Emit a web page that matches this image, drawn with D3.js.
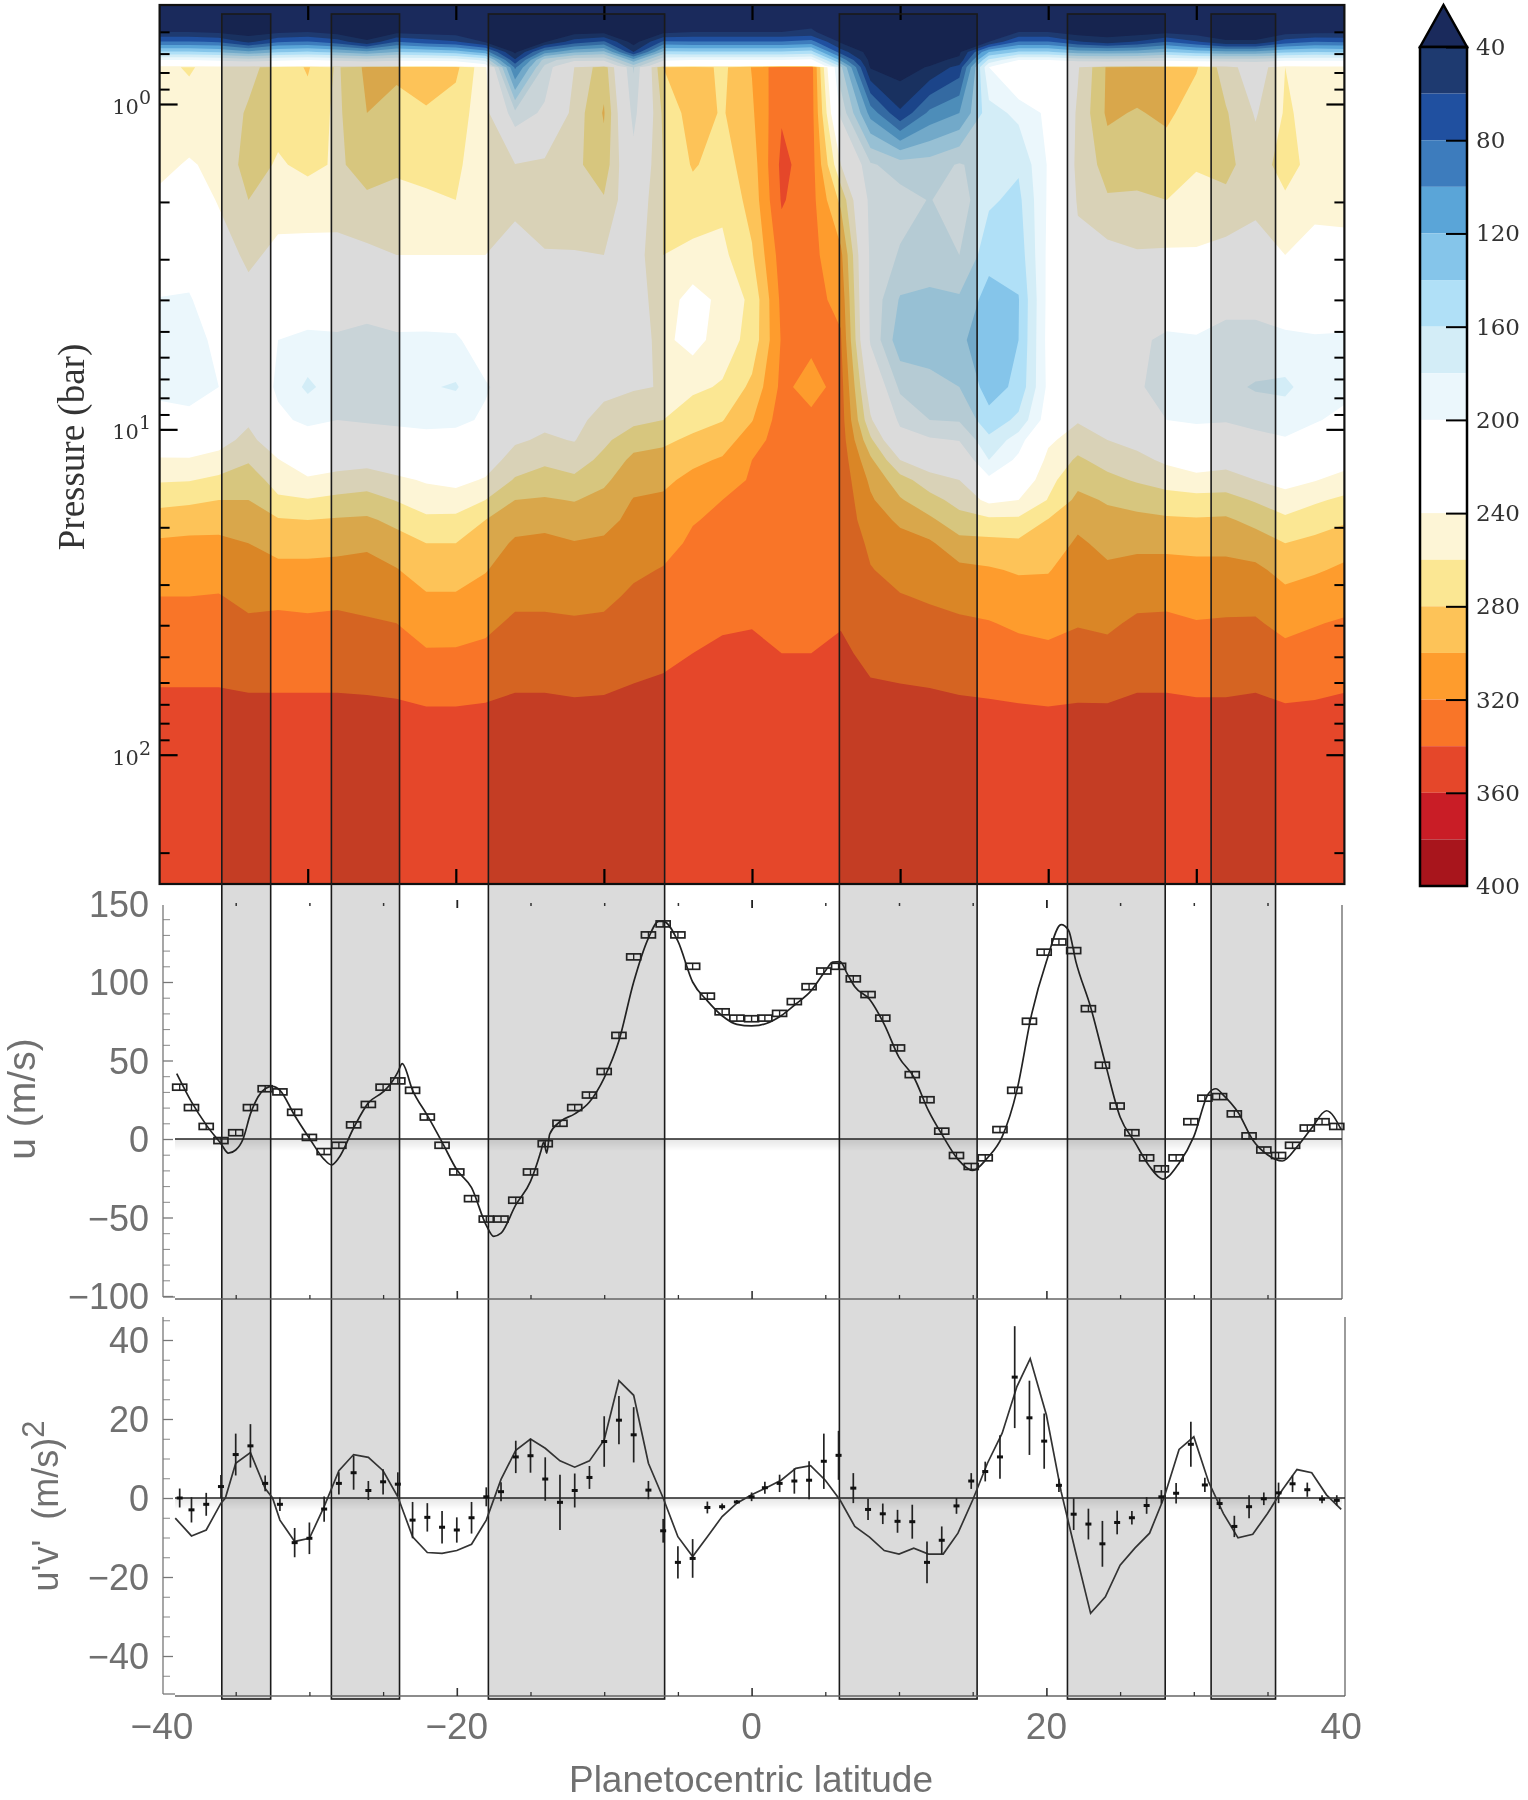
<!DOCTYPE html>
<html><head><meta charset="utf-8">
<script src="https://cdn.jsdelivr.net/npm/d3@7"></script>
<style>html,body{margin:0;background:#fff}svg{display:block;filter:blur(0.7px)}</style>
</head><body><svg id="c" width="1528" height="1800"></svg>
<script>
// ---------- temperature grid (K): one array per pressure level, latitudes -40..40 step 2
const gridLat=[-40,-38,-36,-34,-32,-30,-28,-26,-24,-22,-20,-18,-16,-14,-12,-10,-8,-6,-4,-2,0,2,4,6,8,10,12,14,16,18,20,22,24,26,28,30,32,34,36,38,40];
const logP=[-0.304,-0.221,-0.191,-0.160,-0.135,-0.117,-0.113,0.028,0.187,0.295,0.464,0.602,0.725,0.870,0.971,1.033,1.094,1.156,1.217,1.279,1.350,1.432,1.514,1.596,1.688,1.781,1.852,2.397];
const T00=[20,20,20,20,20,20,20,20,20,20,20,20,20,20,20,20,20,20,20,20,20,20,20,20,20,20,20,20,20,20,20,20,20,20,20,20,20,20,20,20,20];
const T01=[40,40,36,30,36,40,32,28,34,32,30,26,20,26,32,34,24,34,40,40,40,40,43,26,22,20,22,24,28,40,40,30,29,30,34,30,28,28,32,34,36];
const T02=[82,82,78,55,78,82,70,43,80,70,62,38,25,38,70,83,30,83,82,82,82,82,88,36,26,22,26,30,40,82,82,62,50,62,80,62,43,43,70,80,78];
const T03=[142,142,138,125,138,142,135,125,140,135,130,110,35,110,135,145,60,145,142,142,142,142,148,70,30,24,30,36,120,142,142,130,128,130,140,130,125,125,135,140,138];
const T04=[200,200,196,190,196,200,195,190,196,195,192,175,63,170,195,196,130,196,200,200,200,200,205,115,33,26,35,44,165,200,200,192,190,192,196,192,190,190,195,196,196];
const T05=[235,235,232,230,232,235,232,230,232,232,230,210,90,182,230,232,165,232,235,235,235,235,240,155,36,28,40,63,195,230,225,232,232,235,235,235,232,220,232,232,232];
const T06=[255,262,252,255,268,282,257,285,285,290,285,245,96,185,240,272,178,280,292,275,301,335,330,165,38,30,42,68,200,235,225,238,283,295,290,282,250,225,260,252,250];
const T07=[252,252,250,262,266,272,256,280,272,278,270,248,185,205,248,282,192,264,290,278,297,338,330,195,112,63,105,120,172,185,205,243,284,278,285,268,262,238,262,255,249];
const T08=[245,238,245,268,258,264,258,265,263,264,263,250,241,245,255,272,210,260,282,272,290,345,330,240,183,170,170,182,170,163,202,245,268,268,267,262,265,250,268,252,246];
const T09=[236,225,242,260,250,252,250,258,255,258,260,245,245,248,250,258,220,260,272,265,287,342,328,275,192,188,179,190,163,155,203,242,258,257,260,252,256,247,257,248,244];
const T10=[215,210,228,245,234,232,233,235,240,240,240,240,232,239,239,240,228,260,255,255,278,330,326,305,195,178,165,180,148,148,205,235,233,238,237,238,232,228,240,230,236];
const T11=[199,198,215,232,218,215,212,212,220,215,215,225,222,228,230,233,230,250,232,245,265,325,326,315,195,158,158,157,131,139,206,222,222,220,218,220,210,205,215,212,213];
const T12=[194,192,205,222,200,195,197,192,195,196,197,212,215,220,225,233,232,245,232,250,267,322,325,322,197,147,152,145,125,140,207,215,215,205,195,197,190,195,195,198,197];
const T13=[195,193,200,220,196,176,190,187,185,182,178,198,210,222,228,236,238,241,256,262,285,325,312,328,225,176,165,160,131,145,205,212,213,205,185,186,185,178,176,190,193];
const T14=[207,205,212,236,205,195,200,197,195,193,195,203,225,235,236,245,255,260,272,279,299,330,325,330,243,195,180,178,147,165,212,238,225,220,200,197,198,192,190,198,206];
const T15=[225,224,231,247,223,211,215,215,211,208,208,216,237,243,239,256,271,276,284,291,310,331,326,331,264,210,203,199,165,190,236,250,240,233,218,212,215,208,202,210,219];
const T16=[242,242,248,258,241,226,231,233,227,223,220,229,249,256,251,265,285,287,296,302,320,332,328,332,284,240,226,219,180,205,246,263,253,246,236,226,232,224,218,222,232];
const T17=[258,259,264,270,252,243,247,250,244,238,234,242,262,269,264,276,293,296,305,312,322,333,329,333,296,268,249,240,205,222,254,274,265,258,252,248,249,240,233,239,247];
const T18=[274,276,280,280,263,261,265,268,259,250,249,260,280,282,279,286,301,303,312,320,325,333,330,334,303,282,267,253,235,240,261,285,278,273,268,266,267,258,248,257,264];
const T19=[289,292,293,289,282,280,282,283,275,264,265,280,292,295,290,294,305,308,319,323,327,334,331,335,308,297,284,267,264,264,281,295,286,285,283,282,283,274,264,271,277];
const T20=[303,304,304,300,293,293,294,297,288,280,280,289,303,304,301,303,311,314,323,326,330,335,333,336,316,306,303,287,286,284,289,303,295,296,296,295,295,290,280,285,293];
const T21=[312,312,312,307,305,305,306,306,301,291,291,299,309,310,308,309,317,321,327,330,333,336,335,337,321,314,311,305,302,298,299,308,303,306,306,305,305,304,294,298,303];
const T22=[320,320,321,315,316,315,316,314,310,302,302,307,316,316,315,316,323,326,331,334,336,337,336,338,326,321,318,314,312,308,306,313,310,315,315,313,313,314,305,309,313];
const T23=[326,326,326,323,324,323,324,322,320,311,312,316,323,323,322,323,328,331,335,338,339,338,338,339,330,327,325,323,321,317,315,319,317,323,324,321,322,322,315,319,322];
const T24=[333,333,333,330,331,330,331,330,328,322,322,324,330,330,329,330,334,336,340,343,344,340,340,343,336,333,332,330,328,326,324,326,325,330,330,329,329,330,325,327,330];
const T25=[339,339,339,338,338,338,338,337,336,332,332,335,338,338,337,337,340,342,346,349,350,345,346,348,341,340,339,337,336,334,333,335,334,338,338,337,337,338,334,335,338];
const T26=[345,345,345,343,343,343,343,343,342,340,340,341,343,343,342,343,345,347,351,353,354,349,350,352,346,345,344,343,342,341,340,341,341,343,343,342,342,343,341,342,343];
const T27=[357,357,357,357,357,357,357,357,357,357,357,357,357,357,357,357,357,357,357,357,357,357,357,357,357,357,357,357,357,357,357,357,357,357,357,357,357,357,357,357,357];
const gridRows=[T00,T01,T02,T03,T04,T05,T06,T07,T08,T09,T10,T11,T12,T13,T14,T15,T16,T17,T18,T19,T20,T21,T22,T23,T24,T25,T26,T27];

const levels=[40,60,80,100,120,140,160,180,200,240,260,280,300,320,340,360,380];
const levelColors=["#1e3a70","#2050a0","#3d7cbd","#5aa5d8","#85c5ea","#b0e0f7","#d3edf7","#ebf7fc","#ffffff","#fdf5d6","#fbe793","#fdc358","#fe9c2d","#f97528","#e5472a","#c91d26","#a8151c"];
const belowColor="#1a2a5c";
const barTicks=[40,80,120,160,200,240,280,320,360];
const barLabels=[40,80,120,160,200,240,280,320,360,400];

// zones
const zoneEdges=[[-35.8,-32.5],[-28.4,-23.8],[-17.8,-5.9],[5.9,15.2],[21.3,27.9],[31.0,35.35]];

// ---------- zonal wind
const obsLat=[-38.8,-38,-37,-36,-35,-34,-33,-32,-31,-30,-29,-28,-27,-26,-25,-24,-23,-22,-21,-20,-19,-18,-17,-16,-15,-14,-13,-12,-11,-10,-9,-8,-7,-6,-5,-4,-3,-2,-1,0,0.9,1.9,2.9,3.9,4.9,5.9,6.9,7.9,8.9,9.9,10.9,11.9,12.9,13.9,14.9,15.85,16.85,17.85,18.85,19.85,20.85,21.85,22.85,23.8,24.8,25.8,26.8,27.8,28.8,29.8,30.75,31.75,32.75,33.75,34.75,35.75,36.7,37.7,38.7,39.7];
const uObs=[33,20,8,-1,4,20,32,30,17,1,-8,-4,9,22,33,37,31,14,-4,-21,-38,-51,-51,-39,-21,-3,10,20,28,43,66,116,130,137,130,110,91,81,77,76.6,77,80,87.5,97,107,110,102,92,77,58,41,25,5,-10.5,-17.5,-12,6,31,75,119,125.5,120,83,47,21,4,-12,-19,-12,11,26,27,16,2,-7,-10.5,-4,7,11,8];
const uLineLat=[-39,-38,-37,-36,-35.5,-35,-34.5,-34,-33,-32.5,-32,-31,-30,-29,-28.5,-28,-27,-26,-25,-24.5,-24,-23.7,-23,-22,-21,-20,-19,-18,-17.5,-17,-16,-15,-14.5,-14.3,-14.1,-13.9,-13.7,-13,-12,-11,-10,-9,-8,-7,-6.3,-6,-5,-4,-3,-2,-1,0,1,2,3,4,5,5.5,6,6.5,7,8,9,10,11,12,13,14,15,16,17,18,19,20,21,21.5,22,23,24,25,26,27,27.9,29,30,31,31.5,32,33,34,35,36,37,38,39,40];
const uLineVal=[41.6,23.6,9,-3,-9,-7,0,16,32,33.5,31,15,0.5,-13,-16.5,-12,7,23,30,35,42.6,48,31,15,-2,-19.6,-31,-55,-62,-60,-42,-27,-14,-8,-2,-9,3,11,16,23.6,39,62.6,100,128,138.6,138.6,126,100,88,78.5,73,72,73.6,78.5,86,94,107,112.7,113,105,97,89,73,52,39.5,18,1.5,-13,-20,-12,1.5,31,79.5,113,136.5,133,113,84,48,14,-2,-17.5,-25.5,-15.4,1.5,29,32,28,17,-0.6,-10,-14,-5,7,18,6];

// ---------- eddy momentum flux
const vObs=[0,-3,-1.6,2.9,11,13.2,3.7,-1.6,-11.3,-10.2,-2.8,3.7,6.4,1.9,4.1,3.5,-5.6,-4.9,-7.4,-8.1,-5,0.3,1.6,10.4,10.7,4.8,-1.1,1.9,5.2,14.3,19.7,16,2,-8.3,-16.3,-15.3,-2.4,-2.2,-1,0.3,2.6,3.7,4.3,4.5,9.3,10.8,2.5,-2.9,-4,-5.9,-6,-16.3,-10.7,-2,4.3,6.7,10.4,30.6,20.3,14.4,3.2,-4.1,-6.6,-11.6,-6.2,-5,-1.9,0.3,1.2,13.6,3.3,-1.4,-7.2,-2.2,-0.2,1.3,3.6,2.1,-0.3,-0.6];
const vErr=[2.4,3.2,2.9,2.9,5.3,5.5,2,1.7,3.7,4,3.2,2.8,4.3,2.4,3.2,3,4.6,3.6,4.1,3.2,4,2.4,2.4,4.1,4.3,5.5,7,4.3,2.9,6.4,6.1,7,2.3,3,4.1,4.9,1.5,0.8,0.5,1.1,1.5,2.2,3.2,4.8,7,6.2,3.8,2.7,2.6,2.9,4.3,5.3,3.5,2,2,2.5,5.5,12.9,9.4,7,1.7,4,3.9,5.8,3,1.7,2.1,1.7,2.6,5.7,1.8,1.4,2.7,2.9,1.6,2.6,2.1,1.8,1,1.3];
const vLineLat=[-39.1,-38,-37,-36,-35.7,-35,-34,-33,-32.5,-32,-31,-30,-29,-28,-27,-26,-25,-24,-23,-22,-21,-20,-19,-18,-17,-16,-15,-14,-13,-12,-11,-10,-9,-8,-7,-6,-5,-4,-3,-2,-1,0,1,2,3,4,5,6,7,8,9,10,11,12,13,14,15,16,17,18,18.9,20,21,22,23,24,25,26,27,28,29,30,31,32,33,34,35,36,37,38,39,40];
const vLineVal=[-5.1,-9.6,-8.1,-1.3,0,8.8,11.5,2.4,0,-5.6,-11,-10.2,-2.2,6.9,11,10.3,6.9,0.3,-9.8,-13.8,-14,-13.3,-11.7,-5.6,4.7,12.1,14.9,12.6,9.4,7.8,9.4,14.7,29.7,26,8.8,0,-9.8,-14.8,-9.8,-4.7,-1.3,0.8,2.6,4.5,7.5,8.2,4.5,-0.5,-7.2,-9.9,-13.3,-14.2,-12.7,-14.2,-14.2,-8.9,-0.5,8.8,16.4,28.2,35.3,21,1.6,-14,-29.2,-25,-17,-12.7,-8.9,0.3,12.3,15.5,4.1,-3.9,-10.1,-9.2,-3.9,2,7.2,6.4,0.8,-2.9];

// tick lists
const uTicks=[150,100,50,0,-50,-100];
const vTicks=[40,20,0,-20,-40];
const latLabels=[-40,-20,0,20,40];
const latTicksTop=[-30,-20,-10,0,10,20,30];
const latTicks5=[-35,-30,-25,-15,-10,-5,5,10,15,25,30,35];
const latTicksMajor=[-20,0,20];
const pMajor=[1,10,100];
const pMinor=[0.6,0.7,0.8,0.9,2,3,4,5,6,7,8,9,20,30,40,50,60,70,80,90,200];

// ---------- scales
const svg=d3.select("#c");
const xC=d3.scaleLinear().domain([-40,40]).range([159.6,1344.4]);
const xL=d3.scaleLinear().domain([-40,40]).range([162,1341.2]);
const yP=d3.scaleLog().domain([1,100]).range([104,754.7]);
const yU=d3.scaleLinear().domain([0,100]).range([1139,982]);
const yV=d3.scaleLinear().domain([0,40]).range([1498,1340]);
const yBar=d3.scaleLinear().domain([40,400]).range([47,886]);
const fmt=d=>String(d).replace("-","\u2212");
const GR="#707070";
const strip=(g,color,w)=>{g.selectAll(".domain").remove();g.selectAll("text").remove();g.selectAll("line").attr("stroke",color).attr("stroke-width",w);};

// ---------- contour panel
const nx=gridLat.length, ny=logP.length;
const flat=[]; gridRows.forEach(r=>r.forEach(v=>flat.push(v)));
const contours=d3.contours().size([nx,ny]).thresholds(levels)(flat);
const rowY=d3.scaleLinear().domain(d3.range(ny)).range(logP.map(l=>yP(Math.pow(10,l))));
const path=d3.geoPath(d3.geoTransform({point(cx,cy){
  const i=Math.max(0,Math.min(nx-1,cx-0.5)), j=Math.max(0,Math.min(ny-1,cy-0.5));
  this.stream.point(xC(gridLat[0]+2*i),rowY(j));
}}));
const P=svg.append("g");
P.append("rect").attr("x",xC(-40)).attr("y",5).attr("width",xC(40)-xC(-40)).attr("height",879).attr("fill",belowColor);
P.selectAll("path").data(contours).join("path").attr("d",path).attr("fill",(d,i)=>levelColors[i]);

// frame and ticks of contour panel
[[159.6,d3.axisLeft],[1344.4,d3.axisRight]].forEach(([x,A])=>{
  svg.append("g").attr("transform",`translate(${x},0)`).call(A(yP).tickValues(pMajor).tickSize(-18)).call(strip,"#000",2.2);
  svg.append("g").attr("transform",`translate(${x},0)`).call(A(yP).tickValues(pMinor).tickSize(-10)).call(strip,"#000",2);
});
[[5,d3.axisTop],[884,d3.axisBottom]].forEach(([y,A])=>{
  svg.append("g").attr("transform",`translate(0,${y})`).call(A(xC).tickValues(latTicksTop).tickSize(-15)).call(strip,"#000",2.2);
});
svg.append("rect").attr("x",xC(-40)).attr("y",5).attr("width",xC(40)-xC(-40)).attr("height",879).attr("fill","none").attr("stroke","#111").attr("stroke-width",2.2);

[[1,"0"],[10,"1"],[100,"2"]].forEach(([p,e])=>{
  const t=svg.append("text").attr("x",151).attr("y",yP(p)+10).attr("text-anchor","end").attr("font-family","DejaVu Serif").attr("font-size",21).attr("fill","#333");
  t.append("tspan").text("10");
  t.append("tspan").attr("dy",-10).attr("font-size",19).text(e);
});
svg.append("text").attr("transform","translate(84,447) rotate(-90)").attr("text-anchor","middle").attr("font-family","Liberation Serif").attr("font-size",37).attr("fill","#333").text("Pressure (bar)");

// ---------- zones across all panels
const Z=svg.append("g");
Z.selectAll("rect").data(zoneEdges).join("rect")
 .attr("x",d=>xC(d[0])).attr("width",d=>xC(d[1])-xC(d[0])).attr("y",14).attr("height",1685)
 .attr("fill","#000").attr("fill-opacity",0.14).attr("stroke","#1a1a1a").attr("stroke-width",1.6);

// ---------- colour bar
const B=svg.append("g");
const barX0=1420,barX1=1467;
B.append("path").attr("d",d3.line()([[barX0,47],[(barX0+barX1)/2,5],[barX1,47]])+"Z").attr("fill",belowColor).attr("stroke","#000").attr("stroke-width",2.5);
const barEdges=levels.concat([400]);
B.selectAll("rect.c").data(levels).join("rect").attr("class","c").attr("x",barX0).attr("width",barX1-barX0)
 .attr("y",d=>yBar(d)).attr("height",(d,i)=>yBar(barEdges[i+1])-yBar(d)).attr("fill",(d,i)=>levelColors[i]);
B.append("rect").attr("x",barX0).attr("y",yBar(40)).attr("width",barX1-barX0).attr("height",yBar(400)-yBar(40)).attr("fill","none").attr("stroke","#000").attr("stroke-width",2.5);
B.append("g").attr("transform",`translate(${barX1},0)`).call(d3.axisRight(yBar).tickValues(barTicks).tickSize(-21)).call(strip,"#000",2);
B.selectAll("text.lab").data(barLabels).join("text").attr("class","lab").attr("x",1476).attr("y",d=>yBar(d)+8).attr("font-family","DejaVu Serif").attr("font-size",23).attr("fill","#333").text(d=>d);

// ---------- lower panels helper
function frame(yScale,yTop,yBot,majors,minors,rightX){
  svg.append("g").attr("transform","translate(163,0)").call(d3.axisRight(yScale).tickValues(majors).tickSize(10)).call(strip,"#777",1.3);
  svg.append("g").attr("transform","translate(163,0)").call(d3.axisRight(yScale).tickValues(minors).tickSize(7)).call(strip,"#888",1);
  svg.append("line").attr("x1",163).attr("x2",163).attr("y1",yTop).attr("y2",yBot).attr("stroke","#777").attr("stroke-width",1.3);
  svg.append("line").attr("x1",163).attr("x2",175).attr("y1",yBot).attr("y2",yBot).attr("stroke","#777").attr("stroke-width",1.3);
  svg.append("line").attr("x1",rightX).attr("x2",rightX).attr("y1",yTop).attr("y2",yBot+2).attr("stroke","#666").attr("stroke-width",1.3);
  svg.append("line").attr("x1",175).attr("x2",rightX).attr("y1",yBot+2).attr("y2",yBot+2).attr("stroke","#666").attr("stroke-width",1.5);
  svg.append("g").attr("transform",`translate(0,${yBot+2})`).call(d3.axisBottom(xL).tickValues(latTicks5).tickSize(-4)).call(strip,"#333",1.3);
  svg.append("g").attr("transform",`translate(0,${yBot+2})`).call(d3.axisBottom(xL).tickValues(latTicksMajor).tickSize(-8)).call(strip,"#333",1.6);
}
const defs=svg.append("defs");
const gr=defs.append("linearGradient").attr("id","sh").attr("x1",0).attr("x2",0).attr("y1",0).attr("y2",1);
gr.append("stop").attr("offset",0).attr("stop-color","#000").attr("stop-opacity",0.10);
gr.append("stop").attr("offset",1).attr("stop-color","#000").attr("stop-opacity",0);

// u panel
const uMajor=[100,50,0,-50,-100];
const uMinor=[140,130,120,110,90,80,70,60,40,30,20,10,-10,-20,-30,-40,-60,-70,-80,-90];
frame(yU,905,1297,uMajor,uMinor,1342);
svg.append("g").attr("transform","translate(0,903)").call(d3.axisBottom(xL).tickValues(latTicks5).tickSize(3)).call(strip,"#333",1.5);
svg.append("g").attr("transform","translate(0,900)").call(d3.axisBottom(xL).tickValues(latTicksMajor).tickSize(8)).call(strip,"#222",1.8);
svg.append("rect").attr("x",175).attr("width",1167).attr("y",yU(0)).attr("height",12).attr("fill","url(#sh)");
svg.append("line").attr("x1",175).attr("x2",1342).attr("y1",yU(0)).attr("y2",yU(0)).attr("stroke","#222").attr("stroke-width",1.5);
svg.append("path").datum(uLineLat.map((l,i)=>[l,uLineVal[i]])).attr("fill","none").attr("stroke","#222").attr("stroke-width",1.7)
 .attr("d",d3.line().x(d=>xL(d[0])).y(d=>yU(d[1])).curve(d3.curveMonotoneX));
const mk=svg.append("g").selectAll("g").data(obsLat.map((l,i)=>[l,uObs[i]])).join("g").attr("transform",d=>`translate(${xL(d[0])},${yU(d[1])})`);
mk.append("rect").attr("x",-7).attr("y",-3).attr("width",14).attr("height",6).attr("fill","none").attr("stroke","#222").attr("stroke-width",1.7);
mk.append("line").attr("x1",0).attr("x2",0).attr("y1",-3).attr("y2",3).attr("stroke","#222").attr("stroke-width",1.4);

// u'v' panel
const vMajor=[40,20,0,-20,-40];
const vMinor=[45,35,30,25,15,10,5,-5,-10,-15,-25,-30,-35,-45];
frame(yV,1317,1694,vMajor,vMinor,1345);
svg.append("rect").attr("x",175).attr("width",1167).attr("y",yV(0)).attr("height",12).attr("fill","url(#sh)");
svg.append("line").attr("x1",175).attr("x2",1345).attr("y1",yV(0)).attr("y2",yV(0)).attr("stroke","#222").attr("stroke-width",1.5);
svg.append("path").datum(vLineLat.map((l,i)=>[l,vLineVal[i]])).attr("fill","none").attr("stroke","#333").attr("stroke-width",1.7)
 .attr("d",d3.line().x(d=>xL(d[0])).y(d=>yV(d[1])));
const eb=svg.append("g").selectAll("g").data(obsLat.map((l,i)=>[l,vObs[i],vErr[i]])).join("g");
eb.append("line").attr("x1",d=>xL(d[0])).attr("x2",d=>xL(d[0])).attr("y1",d=>yV(d[1]+d[2])).attr("y2",d=>yV(d[1]-d[2])).attr("stroke","#222").attr("stroke-width",1.7);
eb.append("rect").attr("x",d=>xL(d[0])-3).attr("y",d=>yV(d[1])-1.5).attr("width",6).attr("height",3).attr("fill","#111");

// text of lower panels
const sans="Liberation Sans";
svg.append("g").selectAll("text").data(uTicks).join("text").attr("x",149).attr("y",d=>yU(d)+13).attr("text-anchor","end").attr("font-family",sans).attr("font-size",36).attr("fill",GR).text(fmt);
svg.append("g").selectAll("text").data(vTicks).join("text").attr("x",149).attr("y",d=>yV(d)+13).attr("text-anchor","end").attr("font-family",sans).attr("font-size",36).attr("fill",GR).text(fmt);
svg.append("g").selectAll("text").data(latLabels).join("text").attr("x",d=>xL(d)).attr("y",1739).attr("text-anchor","middle").attr("font-family",sans).attr("font-size",37).attr("fill",GR).text(fmt);
svg.append("text").attr("x",751).attr("y",1792).attr("text-anchor","middle").attr("font-family",sans).attr("font-size",37).attr("fill",GR).text("Planetocentric latitude");
svg.append("text").attr("transform","translate(35,1099) rotate(-90)").attr("text-anchor","middle").attr("font-family",sans).attr("font-size",39).attr("fill",GR).text("u (m/s)");
const tv=svg.append("text").attr("transform","translate(58,1506) rotate(-90)").attr("text-anchor","middle").attr("font-family",sans).attr("font-size",36).attr("fill",GR);
tv.append("tspan").text("u'v'\u00a0 (m/s)");
tv.append("tspan").attr("dy",-14).attr("font-size",31).text("2");
</script></body></html>
